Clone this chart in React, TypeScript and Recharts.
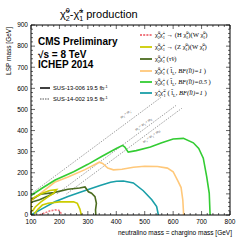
import React from 'react';
import { LineChart, Line, XAxis, YAxis } from 'recharts';

type P = [number, number];

// ---- data (neutralino/chargino mass, LSP mass) ----
const whCurve: P[] = [[130, 0], [145, 8], [165, 19], [185, 24], [198, 22], [205, 10], [208, 0]];
const wzOuter: P[] = [[100, 0], [100, 72], [118, 88], [140, 103], [166, 116], [190, 120], [180, 104], [160, 86], [135, 62], [115, 38], [105, 18]];
const wzInner: P[] = [[112, 6], [125, 28], [140, 47], [160, 56], [200, 62], [250, 63], [263, 55], [272, 28], [277, 0]];
const tauCurve: P[] = [[100, 72], [133, 98], [180, 106], [230, 122], [271, 128], [290, 133], [302, 110], [313, 103], [325, 87], [330, 55], [327, 24], [328, 0]];
const tauLower: P[] = [[100, 60], [130, 72], [160, 90], [182, 104]];
const slep1Curve: P[] = [[100, 66], [140, 110], [183, 155], [230, 180], [290, 215], [340, 250], [352, 244], [370, 222], [390, 214], [420, 217], [460, 226], [500, 231], [545, 230], [580, 222], [600, 205], [617, 160], [628, 130], [634, 71], [637, 0]];
const slep05Curve: P[] = [[100, 92], [140, 128], [185, 166], [250, 205], [300, 240], [350, 278], [400, 315], [422, 330], [430, 322], [442, 298], [470, 305], [520, 322], [560, 342], [600, 360], [636, 363], [671, 342], [690, 315], [706, 269], [718, 182], [727, 103], [730, 0]];
const c1c1Curve: P[] = [[100, 0], [140, 30], [184, 63], [230, 88], [278, 110], [343, 140], [380, 155], [401, 160], [425, 161], [460, 152], [495, 115], [525, 72], [542, 40], [548, 0]];

// diagonal kinematic lines: mass difference and upper end
const diagOffsets = [0, 91, 125];
const diagEnds = [560, 610, 630];

const xTicks = Array.from({ length: 36 }, (_, i) => 100 + i * 20);
const yTicks = Array.from({ length: 46 }, (_, i) => i * 20);

const pts = (a: P[]) => a.map(([x, y]) => ({ x, y }));

type Seg = { t: string; s?: number; dx?: number; it?: boolean };
const chi = (sub: string, sup: string): Seg[] => [
  { t: 'χ̃' },
  { t: sup, s: -1 },
  { t: sub, s: 1, dx: -0.36 },
];
function segs(list: Seg[], fs: number) {
  let cur = 0;
  return list.map((g, i) => {
    const target = g.s === 1 ? 0.3 * fs : g.s === -1 ? -0.42 * fs : 0;
    const dy = target - cur;
    cur = target;
    return (
      <tspan key={i} dy={dy} dx={g.dx ? g.dx * fs : undefined} fontSize={g.s ? fs * 0.65 : fs} fontStyle={g.it ? 'italic' : undefined}>
        {g.t}
      </tspan>
    );
  });
}

const c21 = [...chi('2', '0'), ...chi('1', '±')];
const legendEntries: { color: string; dash?: string; label: Seg[] }[] = [
  { color: '#f07880', dash: '2 1.2', label: [...c21, { t: ' → (H ' }, ...chi('1', '0'), { t: ')(W ' }, ...chi('1', '0'), { t: ')' }] },
  { color: '#cccc00', label: [...c21, { t: ' → (Z ' }, ...chi('1', '0'), { t: ')(W ' }, ...chi('1', '0'), { t: ')' }] },
  { color: '#4b6b1f', label: [...c21, { t: '  (τ̃ν)' }] },
  { color: '#ffc87a', label: [...c21, { t: '  ( l̃' }, { t: 'L', s: 1 }, { t: ', ' }, { t: 'BF(l̃l)=1', it: true }, { t: ' )' }] },
  { color: '#33cc33', label: [...c21, { t: '  ( l̃' }, { t: 'L', s: 1 }, { t: ', ' }, { t: 'BF(l̃l)=0.5', it: true }, { t: ' )' }] },
  { color: '#1a9fa8', label: [...chi('1', '±'), ...chi('1', '∓'), { t: '  ( l̃' }, { t: 'L', s: 1 }, { t: ', ' }, { t: 'BF(l̃l)=1', it: true }, { t: ' )' }] },
];
const legendY = [35, 47, 59, 71, 82, 93];

const curves: { d: P[]; color: string; dash?: string }[] = [
  { d: c1c1Curve, color: '#1a9fa8' },
  { d: slep1Curve, color: '#ffc87a' },
  { d: slep05Curve, color: '#33cc33' },
  { d: tauCurve, color: '#4b6b1f' },
  { d: tauLower, color: '#4b6b1f' },
  { d: wzOuter, color: '#cccc00' },
  { d: wzInner, color: '#cccc00' },
  { d: whCurve, color: '#f07880', dash: '2 1.2' },
];

const font = '"Liberation Sans", Arial, sans-serif';

const makeTick = (side: 'bottom' | 'top' | 'left' | 'right', label: boolean) => (props: any) => {
  const { x, y, payload } = props;
  const v = payload.value as number;
  const major = v % 100 === 0;
  const len = major ? 4 : 2;
  let line;
  if (side === 'bottom') line = <line x1={x} x2={x} y1={y} y2={y - len} stroke="#000" strokeWidth={0.6} />;
  else if (side === 'top') line = <line x1={x} x2={x} y1={y} y2={y + len} stroke="#000" strokeWidth={0.6} />;
  else if (side === 'left') line = <line x1={x} x2={x + len} y1={y} y2={y} stroke="#000" strokeWidth={0.6} />;
  else line = <line x1={x} x2={x - len} y1={y} y2={y} stroke="#000" strokeWidth={0.6} />;
  return (
    <g>
      {line}
      {label && major && side === 'bottom' && (
        <text x={x} y={y + 8.5} textAnchor="middle" fontSize={6.5} fontFamily={font} fill="#000">{v}</text>
      )}
      {label && major && side === 'left' && (
        <text x={x - 3} y={y + 2.3} textAnchor="end" fontSize={6.5} fontFamily={font} fill="#000">{v}</text>
      )}
    </g>
  );
};

export default function App() {
  return (
    <div style={{ position: 'absolute', left: 0, top: 0, width: 250, height: 240, background: '#fff' }}>
      <LineChart width={250} height={240} margin={{ top: 24, right: 19, bottom: 0, left: 0 }}>
        <XAxis type="number" dataKey="x" domain={[100, 800]} ticks={xTicks} interval={0} tick={makeTick('bottom', true)} tickLine={false} tickSize={0} tickMargin={0} height={25} stroke="#000" allowDataOverflow />
        <XAxis xAxisId="top" orientation="top" type="number" dataKey="x" domain={[100, 800]} ticks={xTicks} interval={0} tick={makeTick('top', false)} tickLine={false} tickSize={0} tickMargin={0} height={1} stroke="#000" allowDataOverflow />
        <YAxis type="number" domain={[0, 900]} ticks={yTicks} interval={0} tick={makeTick('left', true)} tickLine={false} tickSize={0} tickMargin={0} width={31} stroke="#000" allowDataOverflow />
        <YAxis yAxisId="right" orientation="right" type="number" domain={[0, 900]} ticks={yTicks} interval={0} tick={makeTick('right', false)} tickLine={false} tickSize={0} tickMargin={0} width={1} stroke="#000" allowDataOverflow />
        {diagOffsets.map((d, i) => (
          <Line
            key={'diag' + i}
            data={pts([[100 + d, 100], [diagEnds[i], diagEnds[i] - d]].map(([x, y]) => [x, d === 0 ? x : y] as P))}
            dataKey="y"
            stroke="#555"
            strokeWidth={0.7}
            strokeDasharray="1 1.3"
            dot={false}
            isAnimationActive={false}
          />
        ))}
        {curves.map((c, i) => (
          <Line
            key={'c' + i}
            data={pts(c.d)}
            dataKey="y"
            stroke={c.color}
            strokeWidth={1.6}
            strokeDasharray={c.dash}
            dot={false}
            isAnimationActive={false}
          />
        ))}
      </LineChart>
      <svg width={250} height={240} style={{ position: 'absolute', left: 0, top: 0, pointerEvents: 'none' }}>
        <text x={60} y={18} fontSize={11} fontFamily={font} fill="#000">
          {segs([...chi('2', '0'), { t: '-' }, ...chi('1', '±'), { t: ' production' }], 11)}
        </text>
        <text x={38} y={45} fontSize={10} fontWeight="bold" fontFamily={font}>CMS Preliminary</text>
        <text x={38} y={58} fontSize={10} fontWeight="bold" fontFamily={font}>√s = 8 TeV</text>
        <text x={38} y={68} fontSize={10} fontWeight="bold" fontFamily={font}>ICHEP 2014</text>
        <line x1={40} x2={50} y1={88} y2={88} stroke="#000" strokeWidth={1.5} />
        <text x={53} y={90} fontSize={5.8} fontFamily={font}>SUS-13-006  19.5 fb<tspan dy={-2} fontSize={3.8}>-1</tspan></text>
        <line x1={40} x2={50} y1={99} y2={99} stroke="#555" strokeWidth={1} strokeDasharray="1.5 1" />
        <text x={53} y={101} fontSize={5.8} fontFamily={font}>SUS-14-002  19.5 fb<tspan dy={-2} fontSize={3.8}>-1</tspan></text>
        {legendEntries.map((e, i) => (
          <g key={i}>
            <line x1={140} x2={152} y1={legendY[i]} y2={legendY[i]} stroke={e.color} strokeWidth={1.8} strokeDasharray={e.dash} />
            <text x={155} y={legendY[i] + 2} fontSize={6.6} fontFamily='"Liberation Serif", serif' fill="#000">
              {segs(e.label, 6.6)}
            </text>
          </g>
        ))}
        <g fontSize={3.6} fontFamily='"Liberation Serif", serif' fill="#333">
          <text transform="translate(126,115) rotate(-36)" textAnchor="middle">m<tspan dy={1} fontSize={2.6}>χ̃</tspan><tspan dy={-1}> = m</tspan><tspan dy={1} fontSize={2.6}>χ̃</tspan></text>
          <text transform="translate(144,125) rotate(-36)" textAnchor="middle">m<tspan dy={1} fontSize={2.6}>χ̃</tspan><tspan dy={-1}> = m</tspan><tspan dy={1} fontSize={2.6}>χ̃</tspan><tspan dy={-1}> + m</tspan><tspan dy={1} fontSize={2.6}>Z</tspan></text>
          <text transform="translate(152,137) rotate(-36)" textAnchor="middle">m<tspan dy={1} fontSize={2.6}>χ̃</tspan><tspan dy={-1}> = m</tspan><tspan dy={1} fontSize={2.6}>χ̃</tspan><tspan dy={-1}> + m</tspan><tspan dy={1} fontSize={2.6}>H</tspan></text>
        </g>
        <text transform="rotate(-90)" x={-27} y={11} textAnchor="end" fontSize={6.5} fontFamily={font}>LSP mass [GeV]</text>
        <text x={232} y={235} textAnchor="end" fontSize={6.5} fontFamily={font}>neutralino mass = chargino mass [GeV]</text>
      </svg>
    </div>
  );
}
